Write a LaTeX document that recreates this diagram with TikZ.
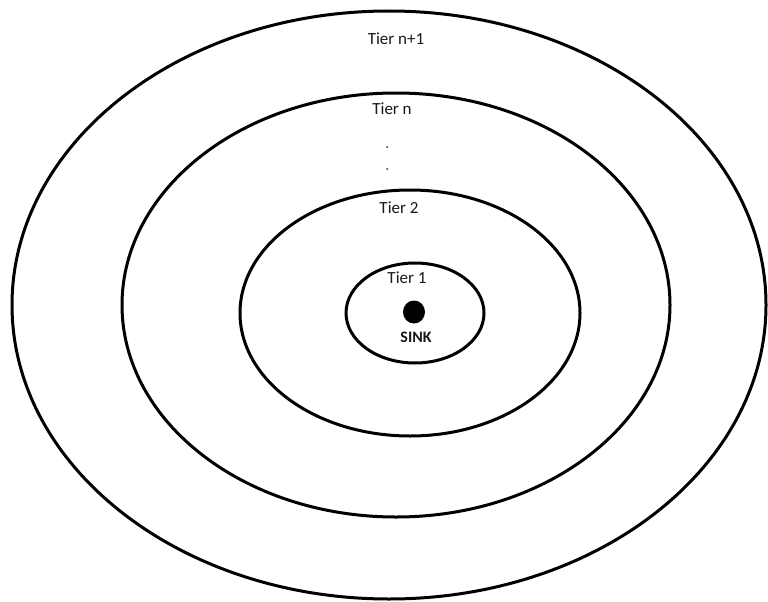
\documentclass[tikz,border=0pt]{standalone}
\usepackage{fontspec}
\setmainfont{Carlito}
\begin{document}
\begin{tikzpicture}[x=1pt,y=-1pt,
  ring/.style={draw=black,line width=3pt},
  tier/.style={inner sep=0pt,text=black!90,font=\fontsize{17}{20}\selectfont}]
\useasboundingbox[fill=white] (0,0) rectangle (768,602);
\draw[ring] (389,305) ellipse [x radius=377, y radius=294];
\draw[ring] (396,305) ellipse [x radius=274, y radius=212];
\draw[ring] (410,313) ellipse [x radius=170, y radius=123];
\draw[ring] (415,313) ellipse [x radius=69, y radius=50];
\fill[black] (414,312) ellipse [x radius=11, y radius=11.5];
\node[tier] (t5) at (396,38.5) {Tier n+1};
\node[tier] (t4) at (392,108.5) {Tier n};
\fill[black!80] (387,147) circle (1pt) (387,169) circle (1pt);
\node[tier] (t2) at (399,208) {Tier 2};
\node[tier] (t1) at (407,278) {Tier 1};
\node[tier,font=\fontsize{16}{20}\selectfont\bfseries] (sink) at (416,337.5) {SINK};
\end{tikzpicture}
\end{document}
